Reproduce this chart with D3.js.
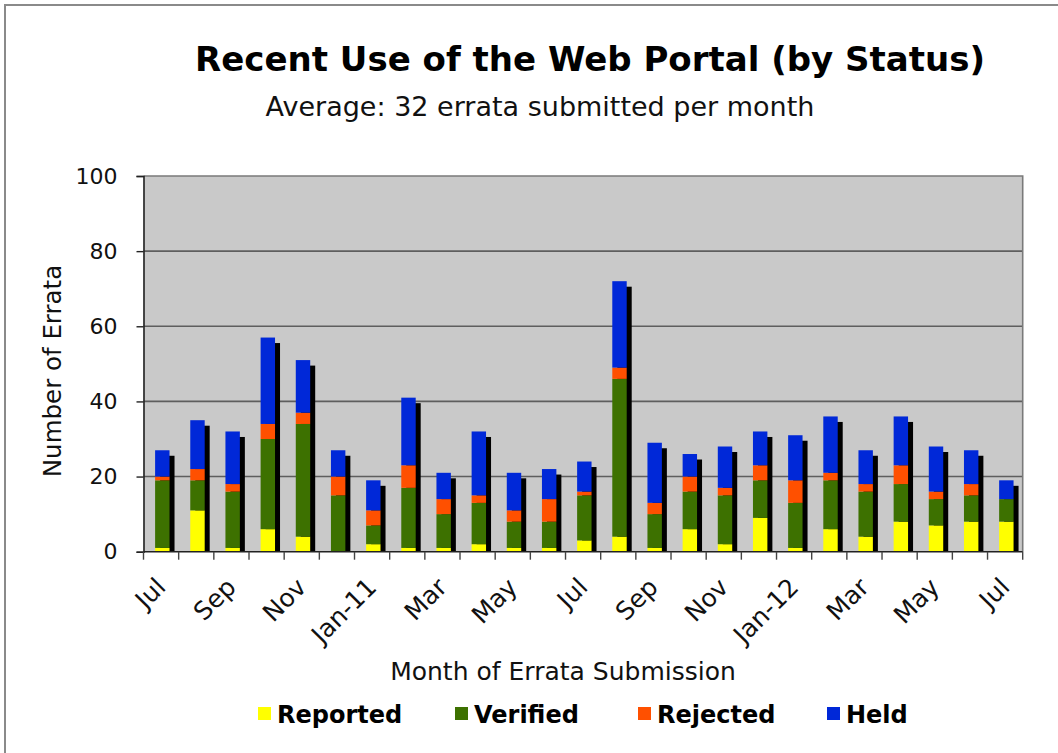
<!DOCTYPE html>
<html>
<head>
<meta charset="utf-8">
<script src="https://cdn.jsdelivr.net/npm/d3@7"></script>
<style>
  html, body { margin: 0; padding: 0; background: #fff; }
  svg { display: block; font-family: "DejaVu Sans", Verdana, sans-serif; }
</style>
</head>
<body>
<div id="chart"></div>
<script>
// Monthly errata counts by status, Jul 2010 – Jul 2012
const months = ['Jul', 'Aug', 'Sep', 'Oct', 'Nov', 'Dec', 'Jan-11', 'Feb', 'Mar', 'Apr', 'May', 'Jun',
    'Jul', 'Aug', 'Sep', 'Oct', 'Nov', 'Dec', 'Jan-12', 'Feb', 'Mar', 'Apr', 'May', 'Jun', 'Jul'];
const reported = [1, 11, 1, 6, 4, 0, 2, 1, 1, 2, 1, 1, 3, 4, 1, 6, 2, 9, 1, 6, 4, 8, 7, 8, 8];
const verified = [18, 8, 15, 24, 30, 15, 5, 16, 9, 11, 7, 7, 12, 42, 9, 10, 13, 10, 12, 13, 12, 10, 7, 7, 6];
const rejected = [1, 3, 2, 4, 3, 5, 4, 6, 4, 2, 3, 6, 1, 3, 3, 4, 2, 4, 6, 2, 2, 5, 2, 3, 0];
const held = [7, 13, 14, 23, 14, 7, 8, 18, 7, 17, 10, 8, 8, 23, 16, 6, 11, 9, 12, 15, 9, 13, 12, 9, 5];
const seriesNames = ['Reported', 'Verified', 'Rejected', 'Held'];
const seriesColors = ['#ffff00', '#3d7100', '#ff5000', '#0028d8'];
const yTicks = [0, 20, 40, 60, 80, 100];

(function () {
    'use strict';

    const W = 1058, H = 753;
    const plot = {left: 143.5, right: 1022.7, top: 176, bottom: 551.7};

    const svg = d3.select('#chart').append('svg').attr('width', W).attr('height', H);

    // outer frame (runs off the right/bottom edge like the original crop)
    svg.append('rect')
        .attr('x', 5).attr('y', 5).attr('width', W + 20).attr('height', H + 20)
        .attr('fill', '#fff').attr('stroke', '#8a8a8a').attr('stroke-width', 2);

    const rows = months.map((m, i) => ({
        idx: i, Reported: reported[i], Verified: verified[i], Rejected: rejected[i], Held: held[i]
    }));
    const stacked = d3.stack().keys(seriesNames)(rows);

    const x = d3.scaleBand().domain(d3.range(months.length)).range([plot.left, plot.right]).padding(0);
    const xEdge = d3.scaleLinear().domain([0, months.length]).range([plot.left, plot.right]);
    const y = d3.scaleLinear().domain([0, 100]).range([plot.bottom, plot.top]);
    const bw = x.bandwidth();
    const barOff = bw * 0.33, barW = bw * 0.41;

    // plot background
    svg.append('rect')
        .attr('x', plot.left).attr('y', plot.top)
        .attr('width', plot.right - plot.left).attr('height', plot.bottom - plot.top)
        .attr('fill', '#c9c9c9');

    // horizontal grid
    svg.append('g').selectAll('line').data(yTicks.filter(d => d > 0 && d < 100)).join('line')
        .attr('x1', plot.left).attr('x2', plot.right)
        .attr('y1', d => y(d)).attr('y2', d => y(d))
        .attr('stroke', '#5e5e5e').attr('stroke-width', 1.6);

    // top + right border of plot area
    svg.append('path')
        .attr('d', `M${plot.left},${plot.top}H${plot.right}V${plot.bottom}`)
        .attr('fill', 'none').attr('stroke', '#7a7a7a').attr('stroke-width', 1.6);

    // drop shadows
    const totals = rows.map((r, i) => reported[i] + verified[i] + rejected[i] + held[i]);
    svg.append('g').selectAll('rect').data(totals).join('rect')
        .attr('x', (d, i) => x(i) + barOff + 5)
        .attr('y', d => y(d) + 5.5)
        .attr('width', barW)
        .attr('height', d => plot.bottom - y(d) - 5.5)
        .attr('fill', '#000');

    // stacked bars
    svg.append('g').selectAll('g').data(stacked).join('g')
        .attr('fill', (d, i) => seriesColors[i])
        .selectAll('rect').data(d => d).join('rect')
        .attr('x', d => x(d.data.idx) + barOff)
        .attr('y', d => y(d[1]))
        .attr('width', barW)
        .attr('height', d => y(d[0]) - y(d[1]));

    // y axis
    const yAxis = svg.append('g').attr('transform', `translate(${plot.left},0)`)
        .call(d3.axisLeft(y).tickValues(yTicks).tickSize(7).tickPadding(19));
    yAxis.select('.domain').attr('stroke', '#222').attr('stroke-width', 1.6);
    yAxis.selectAll('.tick line').attr('stroke', '#222').attr('stroke-width', 1.4);
    yAxis.selectAll('text').attr('font-size', '22px').attr('fill', '#111')
        .attr('font-family', '"DejaVu Sans", Verdana, sans-serif');

    // x axis: ticks on category boundaries
    const xAxis = svg.append('g');
    xAxis.append('line')
        .attr('x1', plot.left).attr('x2', plot.right)
        .attr('y1', plot.bottom).attr('y2', plot.bottom)
        .attr('stroke', '#222').attr('stroke-width', 1.6);
    xAxis.selectAll('line.tk').data(d3.range(months.length + 1)).join('line')
        .attr('class', 'tk')
        .attr('x1', d => xEdge(d)).attr('x2', d => xEdge(d))
        .attr('y1', plot.bottom).attr('y2', plot.bottom + 8)
        .attr('stroke', '#444').attr('stroke-width', 1.4);
    xAxis.selectAll('text').data(months.map((m, i) => ({m, i})).filter(d => d.i % 2 === 0)).join('text')
        .attr('transform', d => `translate(${x(d.i) + bw / 2 + 6},${plot.bottom + 37}) rotate(-45)`)
        .attr('text-anchor', 'end')
        .attr('font-size', '25px').attr('fill', '#111')
        .text(d => d.m);

    // titles
    svg.append('text').attr('x', 590).attr('y', 71).attr('text-anchor', 'middle')
        .attr('font-size', '34px').attr('font-weight', 'bold').attr('fill', '#000')
        .text('Recent Use of the Web Portal (by Status)');
    svg.append('text').attr('x', 540).attr('y', 116).attr('text-anchor', 'middle')
        .attr('font-size', '27px').attr('fill', '#111')
        .text('Average: 32 errata submitted per month');
    svg.append('text').attr('x', 563).attr('y', 680).attr('text-anchor', 'middle')
        .attr('font-size', '25px').attr('fill', '#111')
        .text('Month of Errata Submission');
    svg.append('text')
        .attr('transform', `translate(61,371) rotate(-90)`)
        .attr('text-anchor', 'middle')
        .attr('font-size', '24.5px').attr('fill', '#111')
        .text('Number of Errata');

    // legend
    const legendX = [258, 455, 638, 827];
    const legend = svg.append('g').selectAll('g').data(seriesNames).join('g')
        .attr('transform', (d, i) => `translate(${legendX[i]},707)`);
    legend.append('rect').attr('width', 13).attr('height', 13)
        .attr('fill', (d, i) => seriesColors[i]);
    legend.append('text').attr('x', 19).attr('y', 16)
        .attr('font-size', '24px').attr('font-weight', 'bold').attr('fill', '#000')
        .text(d => d);
})();
</script>
</body>
</html>
